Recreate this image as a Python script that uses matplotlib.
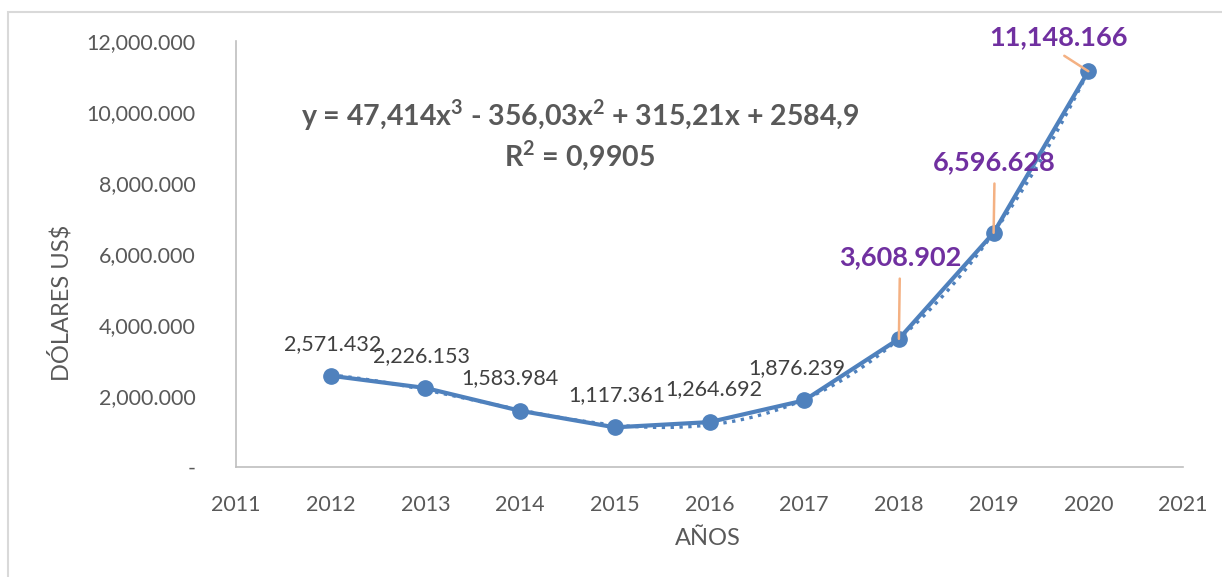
import numpy as np
import matplotlib
matplotlib.use("Agg")
import matplotlib.pyplot as plt
from matplotlib.patches import Rectangle
from matplotlib.ticker import FuncFormatter

# Data (values as shown on the chart)
years = [2012, 2013, 2014, 2015, 2016, 2017, 2018, 2019, 2020]
values = [2571.432, 2226.153, 1583.984, 1117.361, 1264.692, 1876.239, 3608.902, 6596.628, 11148.166]
labels = ["2,571.432", "2,226.153", "1,583.984", "1,117.361", "1,264.692",
          "1,876.239", "3,608.902", "6,596.628", "11,148.166"]
highlight = [False, False, False, False, False, False, True, True, True]
# label offsets in pixels from each point
offsets = [(2, 32), (-4, 32), (-10, 33), (2, 32), (4, 33), (-7, 32), (1, 82), (1, 71), (-30, 34)]
# where the leader line leaves the label box
leader_from = [None] * 6 + [(0.5, 0), (0.5, 0), (0.47, 0)]

equation = r"y = 47,414x$^{\mathbf{3}}$ - 356,03x$^{\mathbf{2}}$ + 315,21x + 2584,9"
r2_text = r"R$^{\mathbf{2}}$ = 0,9905"

blue = "#4F81BD"
purple = "#7030A0"
leader = "#F4B183"
gray = "#595959"

plt.rcParams["font.family"] = ["Lato", "DejaVu Sans"]
plt.rcParams["mathtext.fontset"] = "custom"
plt.rcParams["mathtext.bf"] = "Lato:bold"
plt.rcParams["mathtext.rm"] = "Lato"

fig = plt.figure(figsize=(12.22, 5.77), dpi=100)
fig.patches.append(Rectangle((8 / 1222, -0.05), 1.2, 1 - 12 / 577 + 0.05, transform=fig.transFigure,
                             fill=False, edgecolor="#D9D9D9", linewidth=1.5))
ax = fig.add_axes([236 / 1222, 1 - 467 / 577, 947 / 1222, 426 / 577])

# trend line (cubic fit of the series)
x_idx = np.arange(1, len(values) + 1)
coef = np.polyfit(x_idx, values, 3)
xs = np.linspace(1, len(values), 200)
ax.plot(xs + years[0] - 1, np.polyval(coef, xs), linestyle=":", color=blue, linewidth=2.4, zorder=2)

ax.plot(years, values, color=blue, linewidth=3, marker="o", markersize=11, zorder=3)

for yr, v, lab, hi, off, rp in zip(years, values, labels, highlight, offsets, leader_from):
    if hi:
        ax.annotate(lab, (yr, v), xytext=off, textcoords="offset pixels", ha="center", va="center",
                    fontsize=19.5, fontweight="bold", color=purple, zorder=5,
                    arrowprops=dict(arrowstyle="-", color=leader, linewidth=1.8,
                                    shrinkA=5, shrinkB=0, relpos=rp))
    else:
        ax.annotate(lab, (yr, v), xytext=off, textcoords="offset pixels", ha="center", va="center",
                    fontsize=15.5, color="#404040", zorder=5)

ax.text(0.363, 0.826, equation, transform=ax.transAxes, ha="center", va="center",
        fontsize=20.5, fontweight="bold", color=gray)
ax.text(0.363, 0.732, r2_text, transform=ax.transAxes, ha="center", va="center",
        fontsize=20.5, fontweight="bold", color=gray)

ax.set_xlim(2011, 2021)
ax.set_ylim(0, 12000)
ax.set_xticks(range(2011, 2022))
ax.set_yticks(range(0, 12001, 2000))
ax.yaxis.set_major_formatter(FuncFormatter(lambda v, p: "-" if v == 0 else f"{v:,.3f}"))
ax.tick_params(length=0, labelsize=15.5, labelcolor=gray)
ax.tick_params(axis="y", pad=29)
ax.tick_params(axis="x", pad=20)

for s in ["top", "right"]:
    ax.spines[s].set_visible(False)
for s in ["left", "bottom"]:
    ax.spines[s].set_color("#BFBFBF")
    ax.spines[s].set_linewidth(1.2)

ax.set_xlabel("AÑOS", fontsize=17, color=gray)
ax.set_ylabel("DÓLARES US$", fontsize=17, color=gray)
ax.xaxis.label.set_va("center")
ax.yaxis.label.set_va("center")
ax.xaxis.set_label_coords(0.498, -0.167)
ax.yaxis.set_label_coords(-0.186, 0.385)

fig.savefig("out.png", dpi=100)
